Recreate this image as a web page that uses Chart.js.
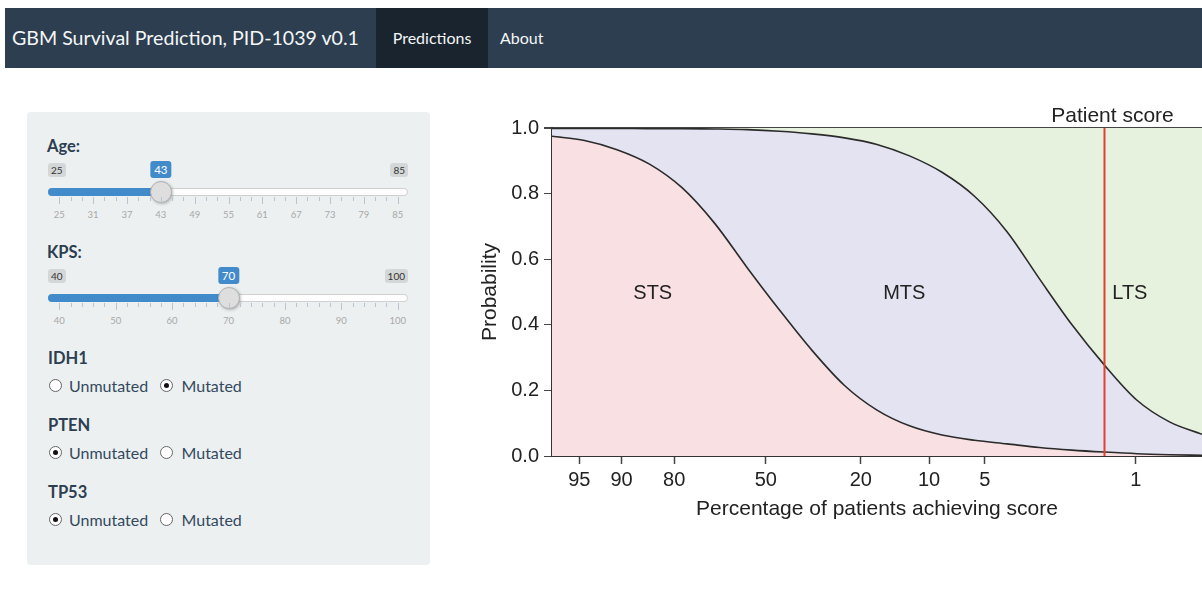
<!DOCTYPE html>
<html>
<head>
<meta charset="utf-8">
<title>GBM Survival Prediction</title>
<script src="https://cdn.jsdelivr.net/npm/chart.js"></script>
<style>
  body { margin: 0; width: 1202px; height: 590px; overflow: hidden; background: #fff; font-family: Lato, "Open Sans", sans-serif; position: relative; }
  .navbar { position: absolute; left: 5px; top: 8px; width: 1197px; height: 60px; background: #2c3e50; }
  .brand { position: absolute; left: 7px; top: 0; line-height: 60px; font-size: 19.6px; color: #f4f6f7; }
  .tab { position: absolute; top: 0; height: 60px; line-height: 60px; font-size: 16px; color: #f4f6f7; }
  .tab.active { left: 371px; width: 112px; background: #1a242f; text-align: center; }
  .tab.about { left: 495px; }
  .well { position: absolute; left: 27px; top: 112px; width: 403px; height: 453px; background: #ecf0f1; border-radius: 4px; }
  .abs { position: absolute; white-space: nowrap; }
  .lbl { font-weight: bold; font-size: 16.5px; line-height: 20px; color: #2c3e50; }
  .mm { font-size: 10px; line-height: 14px; padding: 0 3px; background: rgba(0,0,0,0.1); color: #333; border-radius: 3px; }
  .val { font-size: 11.5px; line-height: 17px; padding: 0 4px; background: #428bca; color: #fff; border-radius: 3px; transform: translateX(-50%); }
  .track { height: 8px; background: #fff; border: 1px solid #cfcfcf; border-radius: 4px; box-sizing: border-box; }
  .bar { height: 8px; background: #428bca; border-radius: 4px 0 0 4px; }
  .handle { width: 22px; height: 22px; border-radius: 50%; background: #dedede; border: 1px solid #b0b0b0; box-sizing: border-box; box-shadow: 1px 1px 3px rgba(0,0,0,0.25); }
  .gt { width: 1px; background: #b8c4d0; }
  .gl { font-size: 9.5px; line-height: 12px; color: #a8a8a8; transform: translateX(-50%); }
  .radio { width: 13px; height: 13px; border-radius: 50%; border: 1px solid #666; background: #fff; box-sizing: border-box; }
  .radio.on::after { content: ""; position: absolute; left: 3px; top: 3px; width: 5px; height: 5px; border-radius: 50%; background: #111; }
  .opt { font-size: 16px; line-height: 20px; color: #34495e; }
  #chartBox { position: absolute; left: 470px; top: 96px; width: 732px; height: 440px; }
</style>
</head>
<body>
<div class="navbar">
  <span class="brand">GBM Survival Prediction, PID-1039 v0.1</span>
  <span class="tab active">Predictions</span>
  <span class="tab about">About</span>
</div>
<div class="well"></div>
<div id="chartBox"><canvas id="myChart" width="732" height="440"></canvas></div>
<script>
// chart values (x = patient score, 0..100 across the plot)
const scores       = [0, 5, 10, 15, 20, 25, 30, 35, 40, 45, 50, 55, 60, 65, 70, 75, 80, 85, 90, 95, 100];
const stsBoundary  = [0.975, 0.962, 0.934, 0.890, 0.818, 0.710, 0.575, 0.445, 0.322, 0.215, 0.140, 0.092, 0.064, 0.048, 0.037, 0.026, 0.018, 0.012, 0.007, 0.004, 0.002];
const ltsBoundary  = [0.999, 0.999, 0.999, 0.998, 0.998, 0.997, 0.995, 0.990, 0.982, 0.970, 0.950, 0.915, 0.865, 0.792, 0.684, 0.540, 0.400, 0.277, 0.170, 0.104, 0.066];
const tickScores   = [4.2, 10.7, 18.8, 32.9, 47.5, 58.0, 66.6, 89.8];
const tickLabels   = ["95", "90", "80", "50", "20", "10", "5", "1"];
const regionNames  = ["STS", "MTS", "LTS"];
const regionScores = [15.5, 54.2, 88.9];
const regionLevel  = 0.494;
const patientScore = 85;

// sidebar inputs
const sliders = [
    {name: "Age:", top: 146, min: 25, max: 85, value: 43, step: 6, minor: 2},
    {name: "KPS:", top: 252, min: 40, max: 100, value: 70, step: 10, minor: 4}
];
const genes = [
    {name: "IDH1", top: 358, checked: 1},
    {name: "PTEN", top: 425, checked: 0},
    {name: "TP53", top: 492, checked: 0}
];

function el(cls, left, top, text) {
    const d = document.createElement("div");
    d.className = "abs " + cls;
    d.style.left = left + "px";
    d.style.top = top + "px";
    if (text !== undefined) d.textContent = text;
    document.body.appendChild(d);
    return d;
}

const sx0 = 59.3, sx1 = 397.7;
sliders.forEach(s => {
    const pos = v => sx0 + (v - s.min) / (s.max - s.min) * (sx1 - sx0);
    const hx = pos(s.value);
    el("lbl", 47, s.top - 10, s.name);
    el("mm", 48, s.top + 17, s.min);
    const mx = el("mm", 0, s.top + 17, s.max);
    mx.style.left = "auto"; mx.style.right = (1202 - 408) + "px";
    el("val", hx, s.top + 15, s.value);
    const tr = el("track", 48, s.top + 42); tr.style.width = "360px";
    const br = el("bar", 48, s.top + 42); br.style.width = (hx - 48) + "px";
    el("handle", hx - 11, s.top + 35);
    for (let v = s.min; v <= s.max; v += s.step) {
        const t = el("gt", pos(v), s.top + 51); t.style.height = "7px";
        el("gl", pos(v), s.top + 63, v);
        if (v < s.max) {
            for (let k = 1; k <= s.minor; k++) {
                const m = el("gt", pos(v + s.step * k / (s.minor + 1)), s.top + 51);
                m.style.height = "4px";
            }
        }
    }
});

genes.forEach(g => {
    el("lbl", 48, g.top - 10, g.name);
    el("radio" + (g.checked === 0 ? " on" : ""), 48.5, g.top + 21);
    el("opt", 69, g.top + 18, "Unmutated");
    el("radio" + (g.checked === 1 ? " on" : ""), 160, g.top + 21);
    el("opt", 181.5, g.top + 18, "Mutated");
});

// chart
const toPoints = ys => scores.map((x, i) => ({x: x, y: ys[i]}));
const axisFont = {family: "'Liberation Sans', Arial, sans-serif", size: 20};
const titleFont = {family: "'Liberation Sans', Arial, sans-serif", size: 21};

const overlay = {
    id: "overlay",
    afterDraw(chart) {
        const {ctx, chartArea, scales} = chart;
        const px = scales.x.getPixelForValue(patientScore);
        ctx.save();
        ctx.strokeStyle = "#e2412b";
        ctx.lineWidth = 2;
        ctx.beginPath();
        ctx.moveTo(px, chartArea.top);
        ctx.lineTo(px, chartArea.bottom);
        ctx.stroke();
        ctx.fillStyle = "#222";
        ctx.textAlign = "center";
        ctx.textBaseline = "middle";
        ctx.font = "21px 'Liberation Sans', Arial, sans-serif";
        ctx.fillText("Patient score", px + 8, chartArea.top - 12);
        ctx.font = "20px 'Liberation Sans', Arial, sans-serif";
        regionNames.forEach((n, i) => {
            ctx.fillText(n, scales.x.getPixelForValue(regionScores[i]), scales.y.getPixelForValue(regionLevel));
        });
        ctx.restore();
    }
};

var ctx = document.getElementById("myChart").getContext("2d");
var survivalChart = new Chart(ctx, {
    type: "line",
    data: {
        datasets: [
            {
                label: "STS",
                data: toPoints(stsBoundary),
                borderColor: "#2b2b2b",
                borderWidth: 1.6,
                backgroundColor: "#f9e0e2",
                fill: "origin",
                pointRadius: 0,
                cubicInterpolationMode: "monotone"
            },
            {
                label: "MTS",
                data: toPoints(ltsBoundary),
                borderColor: "#2b2b2b",
                borderWidth: 1.6,
                backgroundColor: "#e3e3f2",
                fill: "-1",
                pointRadius: 0,
                cubicInterpolationMode: "monotone"
            },
            {
                label: "LTS",
                data: toPoints(ltsBoundary),
                borderWidth: 0,
                borderColor: "rgba(0,0,0,0)",
                backgroundColor: "#e6f1de",
                fill: "end",
                pointRadius: 0,
                cubicInterpolationMode: "monotone"
            }
        ]
    },
    options: {
        responsive: false,
        animation: false,
        layout: {padding: {top: 32, right: 0, left: 0, bottom: 0}},
        plugins: {legend: {display: false}, tooltip: {enabled: false}},
        scales: {
            x: {
                type: "linear",
                min: 0,
                max: 100,
                z: 1,
                afterBuildTicks: s => { s.ticks = tickScores.map(v => ({value: v})); },
                afterFit: s => { s.height = 80; },
                border: {color: "#333", width: 2},
                grid: {drawOnChartArea: false, drawTicks: true, tickLength: 8, tickColor: "#444", tickWidth: 1.5},
                ticks: {
                    callback: (v, i) => tickLabels[i],
                    autoSkip: false,
                    maxRotation: 0,
                    padding: 4,
                    color: "#222",
                    font: axisFont
                },
                title: {display: true, text: "Percentage of patients achieving score", color: "#222", font: titleFont, padding: {top: 0, bottom: 14}}
            },
            y: {
                min: 0,
                max: 1,
                z: 1,
                afterFit: s => { s.width = 82; },
                border: {color: "#333", width: 2},
                grid: {
                    color: c => c.tick.value === 1 ? "#444" : "rgba(110,90,110,0.10)",
                    lineWidth: c => c.tick.value === 1 ? 2 : 1,
                    tickColor: "#444",
                    tickLength: 8
                },
                ticks: {stepSize: 0.2, callback: v => v.toFixed(1), padding: 5, color: "#222", font: axisFont},
                title: {display: true, text: "Probability", color: "#222", font: titleFont, padding: {top: 8, bottom: 0}}
            }
        }
    },
    plugins: [overlay]
});
</script>
</body>
</html>
